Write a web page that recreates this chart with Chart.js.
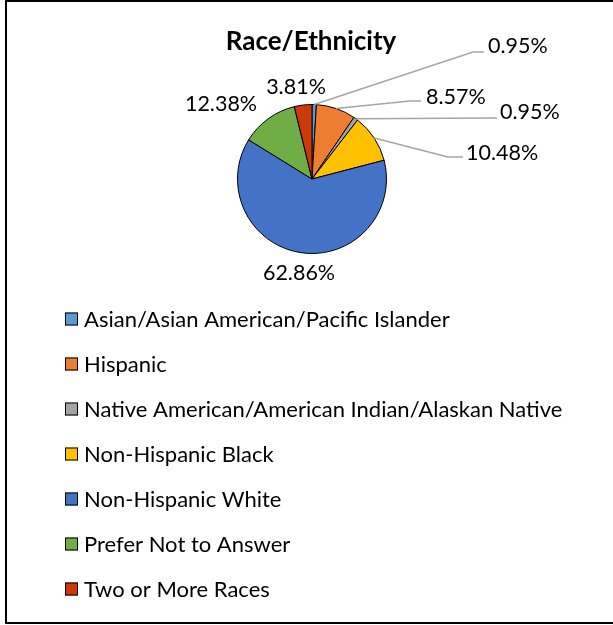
<!DOCTYPE html>
<html>
<head>
<meta charset="utf-8">
<script src="https://cdn.jsdelivr.net/npm/chart.js@4.4.0/dist/chart.umd.min.js"></script>
<style>
  html, body { margin: 0; padding: 0; background: #fff; }
  #wrap { width: 613px; height: 625px; position: relative; }
</style>
</head>
<body>
<div id="wrap"><canvas id="chart" width="613" height="625"></canvas></div>
<script>
// Chart data
const categories = [
    'Asian/Asian American/Pacific Islander',
    'Hispanic',
    'Native American/American Indian/Alaskan Native',
    'Non-Hispanic Black',
    'Non-Hispanic White',
    'Prefer Not to Answer',
    'Two or More Races'
];
const percentValues = [0.95, 8.57, 0.95, 10.48, 62.86, 12.38, 3.81];
const sliceColors = ['#5B9BD5', '#ED7D31', '#A5A5A5', '#FFC000', '#4472C4', '#70AD47', '#CC3A0A'];
const chartTitle = 'Race/Ethnicity';

// Where each data label sits (dragged labels in the original)
const labelLayout = [
    { x: 488, y: 46, align: 'left', elbow: [473, 52], end: [484, 52] },
    { x: 426, y: 97, align: 'left', elbow: [410, 101], end: [421, 101] },
    { x: 500, y: 112, align: 'left', elbow: null, end: [497, 118] },
    { x: 466, y: 153, align: 'left', elbow: [448, 157], end: [463, 157] },
    { x: 299, y: 273, align: 'center' },
    { x: 221, y: 104, align: 'center' },
    { x: 296, y: 87, align: 'center' }
];

const FONT = 'Lato, "Open Sans", sans-serif';

// Draws title, data labels with leader lines, legend and frame
const decorPlugin = {
    id: 'decor',
    afterDraw(chart) {
        const ctx = chart.ctx;
        const arcs = chart.getDatasetMeta(0).data;
        ctx.save();

        // title
        ctx.fillStyle = '#000';
        ctx.font = 'bold 26px ' + FONT;
        ctx.textAlign = 'center';
        ctx.textBaseline = 'middle';
        ctx.fillText(chartTitle, 311, 42);

        // data labels
        ctx.font = '21.5px ' + FONT;
        arcs.forEach((arc, i) => {
            const lay = labelLayout[i];
            const p = arc.getProps(['x', 'y', 'startAngle', 'endAngle', 'outerRadius'], true);
            if (lay.end) {
                const mid = (p.startAngle + p.endAngle) / 2;
                ctx.beginPath();
                ctx.moveTo(p.x + Math.cos(mid) * p.outerRadius, p.y + Math.sin(mid) * p.outerRadius);
                if (lay.elbow) ctx.lineTo(lay.elbow[0], lay.elbow[1]);
                ctx.lineTo(lay.end[0], lay.end[1]);
                ctx.strokeStyle = '#A6A6A6';
                ctx.lineWidth = 1.5;
                ctx.stroke();
            }
            ctx.fillStyle = '#000';
            ctx.textAlign = lay.align;
            ctx.fillText(percentValues[i].toFixed(2) + '%', lay.x, lay.y);
        });

        // legend, one entry per line
        ctx.font = '22px ' + FONT;
        ctx.textAlign = 'left';
        categories.forEach((name, i) => {
            const y = 319 + i * 45;
            ctx.fillStyle = sliceColors[i];
            ctx.fillRect(65, y - 6.5, 13, 13);
            ctx.strokeStyle = '#000';
            ctx.lineWidth = 1;
            ctx.strokeRect(65.5, y - 6, 12, 12);
            ctx.fillStyle = '#000';
            ctx.fillText(name, 84, y + 1);
        });

        // frame
        ctx.strokeStyle = '#000';
        ctx.lineWidth = 2;
        ctx.strokeRect(6, 1, 700, 622);
        ctx.restore();
    }
};

new Chart(document.getElementById('chart'), {
    type: 'pie',
    data: {
        labels: categories,
        datasets: [{
            data: percentValues,
            backgroundColor: sliceColors,
            borderColor: '#000',
            borderWidth: 1
        }]
    },
    options: {
        responsive: false,
        animation: false,
        layout: { padding: { left: 162, right: 151, top: 104, bottom: 371 } },
        plugins: {
            legend: { display: false },
            title: { display: false },
            tooltip: { enabled: false }
        }
    },
    plugins: [decorPlugin]
});
</script>
</body>
</html>
